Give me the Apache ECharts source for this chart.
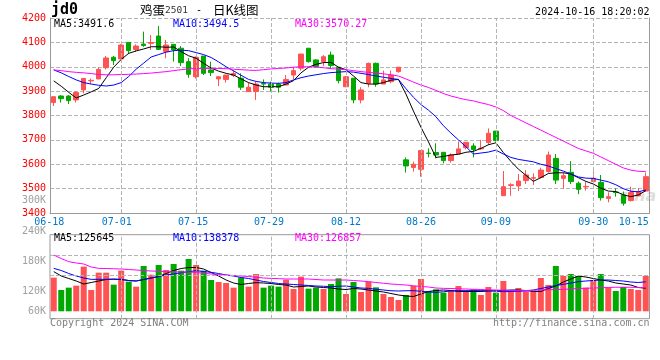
<!DOCTYPE html>
<html><head><meta charset="utf-8">
<script src="https://cdn.jsdelivr.net/npm/echarts/dist/echarts.min.js"></script>
<style>html,body{margin:0;padding:0;background:#fff}#c{width:660px;height:360px}</style>
</head><body><div id="c"></div>
<script>
const dates = ['06-18','06-19','06-20','06-21','06-24','06-25','06-26','06-27','06-28',
 '07-01','07-02','07-03','07-04','07-05','07-08','07-09','07-10','07-11','07-12',
 '07-15','07-16','07-17','07-18','07-19','07-22','07-23','07-24','07-25','07-26',
 '07-29','07-30','07-31','08-01','08-02','08-05','08-06','08-07','08-08','08-09',
 '08-12','08-13','08-14','08-15','08-16','08-19','08-20','08-21','08-22','08-23',
 '08-26','08-27','08-28','08-29','08-30','09-02','09-03','09-04','09-05','09-06',
 '09-09','09-10','09-11','09-12','09-13','09-18','09-19','09-20','09-23','09-24',
 '09-25','09-26','09-27','09-30','10-08','10-09','10-10','10-11','10-14','10-15','10-16'];
const opens = [3853,3880,3880,3864,3905,3942,3950,3996,4039,4032,
 4100,4071,4093,4096,4126,4062,4092,4076,4021,3959,
 4044,3987,3950,3948,3965,3953,3898,3898,3931,3929,
 3929,3925,3966,3994,4076,4028,4021,4048,3998,3918,
 3953,3864,3932,4014,3929,3939,3980,3618,3587,3579,
 3646,3648,3649,3615,3642,3668,3675,3663,3689,3736,
 3471,3513,3511,3533,3543,3546,3570,3624,3542,3567,
 3522,3507,3529,3526,3460,3486,3474,3451,3470,3490];
const closes = [3877,3869,3861,3894,3952,3944,3989,4036,4025,4089,
 4066,4085,4087,4099,4071,4089,4069,4017,3969,4039,
 3973,3976,3959,3966,3972,3916,3916,3929,3929,3916,
 3916,3948,3984,4052,4021,4000,4041,4005,3943,3959,
 3864,3905,4014,3929,3946,3966,3998,3593,3600,3656,
 3644,3638,3615,3638,3663,3690,3661,3666,3727,3697,
 3508,3516,3531,3556,3545,3576,3638,3535,3553,3529,
 3497,3509,3542,3463,3467,3484,3440,3484,3488,3549];
const lows = [3839,3853,3847,3853,3891,3929,3949,3989,4007,4031,
 4052,4062,4082,4069,4069,4035,4021,4003,3955,3952,
 3966,3962,3921,3935,3958,3905,3898,3864,3905,3898,
 3894,3925,3948,3984,4017,3998,4003,3994,3932,3918,
 3850,3850,3916,3918,3929,3932,3976,3566,3570,3549,
 3628,3624,3604,3607,3642,3661,3628,3659,3679,3693,
 3471,3471,3490,3519,3515,3542,3566,3519,3499,3519,
 3477,3492,3526,3451,3444,3467,3430,3447,3470,3488];
const highs = [3878,3884,3884,3900,3953,3952,3998,4044,4044,4093,
 4100,4092,4144,4130,4167,4110,4092,4085,4035,4042,
 4044,4021,3960,3966,3985,3973,3935,3939,3948,3939,
 3935,3966,4000,4052,4076,4031,4048,4062,3998,3962,
 3953,3916,4017,4017,3984,3984,3998,3628,3611,3659,
 3665,3686,3649,3645,3693,3690,3686,3700,3747,3736,
 3572,3522,3560,3576,3563,3586,3652,3642,3566,3613,
 3529,3529,3570,3556,3485,3501,3488,3508,3501,3566];
const ma5 = [3942,3920,3895,3872,3884,3897,3911,3955,3998,4030,
 4055,4065,4073,4082,4082,4080,4081,4062,4045,4035,
 4014,3995,3982,3973,3966,3950,3935,3925,3918,3918,
 3918,3929,3943,3975,3998,4010,4017,4018,3998,3988,
 3962,3935,3929,3929,3935,3945,3948,3888,3818,3752,
 3692,3628,3632,3638,3641,3649,3653,3665,3680,3688,
 3648,3612,3580,3555,3530,3545,3562,3565,3565,3560,
 3545,3530,3519,3502,3490,3488,3475,3467,3474,3491.6];
const ma10 = [3987,3975,3960,3946,3935,3929,3924,3921,3925,3935,
 3960,3990,4015,4040,4050,4060,4066,4068,4066,4058,
 4050,4038,4020,4000,3983,3965,3948,3940,3935,3933,
 3932,3935,3946,3955,3962,3967,3972,3976,3978,3980,
 3978,3973,3968,3962,3957,3952,3948,3910,3875,3845,
 3822,3795,3758,3728,3700,3672,3642,3646,3650,3658,
 3642,3628,3620,3615,3610,3600,3593,3582,3572,3560,
 3548,3543,3542,3535,3528,3516,3500,3489,3487,3494.5];
const ma30 = [3987,3984,3980,3977,3975,3972,3968,3967,3967,3968,
 3969,3970,3972,3974,3977,3980,3984,3988,3991,3993,
 3993,3993,3993,3992,3990,3988,3986,3985,3988,3991,
 3993,3995,3998,4000,4000,3999,3996,3992,3990,3988,
 3984,3980,3977,3974,3971,3967,3962,3950,3937,3925,
 3915,3903,3890,3880,3872,3865,3860,3852,3845,3835,
 3820,3800,3785,3770,3755,3740,3725,3710,3695,3680,
 3665,3655,3645,3630,3615,3600,3585,3576,3571,3570.27];
const volumes = [146700,122000,126700,130700,168700,122000,156700,156700,132700,160700,
 138700,128700,170000,152700,172000,162000,174000,160700,184000,172000,
 160700,142000,138000,136000,126700,146700,128700,154000,126700,130700,
 128700,142700,124000,148700,124700,126700,124000,134000,145300,114000,
 138000,118000,138700,127300,114000,108000,102000,112000,130000,144000,
 120000,123300,116700,120700,130000,119300,123300,112000,128000,116700,
 140000,122000,126000,118700,118700,146000,132000,170000,150000,154000,
 150000,126700,142000,154000,126700,120000,128000,124000,122000,150000];
const vma5 = [158700,150000,145000,140000,134000,137000,140000,143000,144000,143000,
 141000,140000,143000,146000,149000,155000,161000,165000,167000,167000,
 164000,157000,150000,142000,136000,133000,135000,136700,136000,135000,
 133000,132000,128000,129000,130000,128000,127000,126000,124000,123000,
 125000,124000,122000,120000,118000,115000,112000,110000,109000,114000,
 119000,121000,122000,121000,119000,119000,119000,119000,120000,120700,
 121000,122000,122000,121000,119000,119000,125000,130000,138000,144000,
 150000,148000,145000,142000,140000,136000,134000,132000,127000,125645];
const vma10 = [165300,161000,155000,150000,146000,143300,143300,143300,143300,143300,
 141000,140000,143000,146000,149000,152000,154000,156700,158500,160700,
 159000,157300,155000,152000,150000,147000,145000,142000,139000,137000,
 135000,134000,133000,132000,131000,130000,129500,128700,129500,130000,
 128000,126000,125300,123500,122000,120500,120000,120500,120700,119500,
 118000,117300,118500,120000,120700,120700,120700,120700,120700,119500,
 118700,119000,119500,120000,122000,125000,128000,131000,133300,136000,
 138700,140000,141000,142000,142000,141000,140000,138000,137000,138378];
const vma30 = [192000,185000,178700,176000,174000,168000,165300,165000,164500,164000,
 163000,162000,161000,160000,159500,158700,158300,158000,158000,157000,
 155500,154000,153000,152000,151000,150000,149000,147500,146000,145300,
 144700,144000,144000,144000,144000,143000,142000,142000,142000,142000,
 141000,140000,138700,137000,135500,134000,133000,132000,130500,129000,
 128000,126000,125300,125000,124300,124000,123500,123000,122300,122000,
 121500,121000,120700,121000,121500,122000,122500,123000,123300,124000,
 125000,125500,126000,126500,127000,127500,127700,127500,127000,126857];
const priceMin = 3400, priceMax = 4200, priceStep = 100;
const labelIdx = [0, 9, 19, 29, 39, 49, 59, 72, 78];
const gridIdx = [9, 19, 29, 39, 49, 59, 72];
const volBarMin = 79400, volFrameMin = 64600, volMax = 232600;
const volGridValues = [191400, 151400];
const volLabels = ['240K', '180K', '120K', '60K'];
const priceVolLabel = '300K';

const MONO = '"DejaVu Sans Mono", monospace';
const CJK = '"Noto Sans CJK SC", sans-serif';
const UP = '#ff5252', DOWN = '#00a800', BORDER = '#999';
const last = a => a[a.length - 1];

const chart = echarts.init(document.getElementById('c'), null, {renderer: 'canvas'});
const gridLine = () => ({color: '#b4b4b4', type: 'dashed', width: 1});
const vLines = gridIdx.map(i => ({xAxis: i}));
const shiftRich = {
  a: {padding: [0, 9, 0, 0]}, b: {padding: [0, 6, 0, 0]}, c: {padding: [0, 4, 0, 0]},
  e: {padding: [0, 9, 0, 0]}
};
const shiftKey = {0: 'a', 9: 'a', 19: 'b', 29: 'c', 78: 'e'};
function t(x, y, text, fill, align, extra) {
  return {type: 'text', x: x, y: y, silent: true,
    style: Object.assign({text: text, fill: fill, fontFamily: MONO, fontSize: 10, align: align || 'left', verticalAlign: 'middle'}, extra || {})};
}
const volLabelY = [231, 261, 291, 311];
const graphics = [
  t(51, 10.5, 'jd0', '#000', 'left', {fontSize: 15, fontWeight: 'bold'}),
  {type: 'text', x: 140, y: 10.5, silent: true, style: {
    text: '{a|鸡蛋}{b|2501}{c|-}{a|日K线图}', verticalAlign: 'middle', align: 'left',
    rich: {a: {fontFamily: CJK, fontSize: 12.5, fill: '#000'},
           b: {fontFamily: MONO, fontSize: 9.5, fill: '#333'},
           c: {fontFamily: MONO, fontSize: 10, fill: '#000', padding: [0, 11, 0, 8]}}}},
  t(649.5, 12, '2024-10-16 18:20:02', '#000', 'right'),
  t(54, 24, 'MA5:' + last(ma5).toFixed(1), '#000'),
  t(173, 24, 'MA10:' + last(ma10).toFixed(1), '#0000ff'),
  t(295, 24, 'MA30:' + last(ma30).toFixed(2), '#ff00ff'),
  t(54, 238.7, 'MA5:' + last(vma5), '#000'),
  t(173, 238.7, 'MA10:' + last(vma10), '#0000ff'),
  t(295, 238.7, 'MA30:' + last(vma30), '#ff00ff'),
  t(46, 200.3, priceVolLabel, '#a0a0a0', 'right'),
  t(50, 323.7, 'Copyright 2024 SINA.COM', '#808080', 'left'),
  t(649.5, 323.7, 'http://finance.sina.com.cn', '#808080', 'right'),
  {type: 'text', x: 619, y: 197, z: 0, silent: true, style: {text: 'sina', fill: 'rgba(190,190,190,0.5)',
    fontFamily: '"DejaVu Sans", sans-serif', fontSize: 16, fontWeight: 'bold', fontStyle: 'italic', verticalAlign: 'middle'}}
].concat(volLabels.map((s, i) => t(46, volLabelY[i], s, '#a0a0a0', 'right')));

const option = {
  animation: false,
  backgroundColor: '#fff',
  graphic: {elements: graphics},
  grid: [
    {left: 50, top: 18, width: 599.5, height: 195, outerBoundsMode: 'none', containLabel: false},
    {left: 50, top: 234.7, width: 599.5, height: 76.6, outerBoundsMode: 'none', containLabel: false},
    {left: 50, top: 234.7, width: 599.5, height: 84, show: true, borderColor: BORDER, borderWidth: 1,
     backgroundColor: 'transparent', outerBoundsMode: 'none', containLabel: false}
  ],
  xAxis: [
    {type: 'category', gridIndex: 0, data: dates, boundaryGap: true,
     axisLine: {show: true, lineStyle: {color: BORDER}}, axisTick: {show: false}, splitLine: {show: false},
     axisLabel: {interval: (i) => labelIdx.indexOf(i) >= 0, hideOverlap: false, color: '#0078c8',
       fontFamily: MONO, fontSize: 10, margin: 4, rich: shiftRich,
       formatter: (v, i) => shiftKey[i] ? '{' + shiftKey[i] + '|' + v + '}' : v}},
    {type: 'category', gridIndex: 1, data: dates, boundaryGap: true, show: false},
    {type: 'category', gridIndex: 2, data: dates, boundaryGap: true, show: false}
  ],
  yAxis: [
    {type: 'value', gridIndex: 0, min: priceMin, max: priceMax, interval: priceStep,
     axisLine: {show: true, lineStyle: {color: BORDER}}, axisTick: {show: false},
     axisLabel: {color: '#ff0000', fontFamily: MONO, fontSize: 10, margin: 4, formatter: v => String(v)},
     splitLine: {show: true, lineStyle: gridLine()}},
    {type: 'value', gridIndex: 0, position: 'right', min: priceMin, max: priceMax,
     axisLine: {show: true, lineStyle: {color: BORDER}}, axisTick: {show: false},
     axisLabel: {show: false}, splitLine: {show: false}},
    {type: 'value', gridIndex: 1, min: volBarMin, max: volMax, show: false, splitLine: {show: false}},
    {type: 'value', gridIndex: 2, min: volFrameMin, max: volMax, show: false, splitLine: {show: false}}
  ],
  series: [
    {type: 'line', xAxisIndex: 0, yAxisIndex: 0, data: closes, symbol: 'none', silent: true, z: 1,
     lineStyle: {width: 0, color: 'rgba(0,0,0,0)'},
     markLine: {silent: true, symbol: ['none', 'none'], label: {show: false}, animation: false,
       lineStyle: gridLine(), data: vLines}},
    {type: 'candlestick', xAxisIndex: 0, yAxisIndex: 0, barWidth: 5, silent: true,
     data: dates.map((d, i) => [opens[i], closes[i], lows[i], highs[i]]),
     itemStyle: {color: UP, color0: DOWN, borderColor: UP, borderColor0: DOWN, borderWidth: 1}},
    {type: 'line', xAxisIndex: 0, yAxisIndex: 0, data: ma5, symbol: 'none', silent: true, lineStyle: {color: '#000', width: 1}},
    {type: 'line', xAxisIndex: 0, yAxisIndex: 0, data: ma10, symbol: 'none', silent: true, lineStyle: {color: '#0000ff', width: 1}},
    {type: 'line', xAxisIndex: 0, yAxisIndex: 0, data: ma30, symbol: 'none', silent: true, lineStyle: {color: '#ff00ff', width: 1}},
    {type: 'line', xAxisIndex: 2, yAxisIndex: 3, data: volumes, symbol: 'none', silent: true, z: 1,
     lineStyle: {width: 0, color: 'rgba(0,0,0,0)'},
     markLine: {silent: true, symbol: ['none', 'none'], label: {show: false}, animation: false,
       lineStyle: gridLine(), data: vLines.concat(volGridValues.map(v => ({yAxis: v})))}},
    {type: 'bar', xAxisIndex: 1, yAxisIndex: 2, barWidth: 6, silent: true,
     data: volumes.map((v, i) => ({value: v, itemStyle: {color: closes[i] >= opens[i] ? UP : DOWN}}))},
    {type: 'line', xAxisIndex: 1, yAxisIndex: 2, data: vma5, symbol: 'none', silent: true, lineStyle: {color: '#000', width: 1}},
    {type: 'line', xAxisIndex: 1, yAxisIndex: 2, data: vma10, symbol: 'none', silent: true, lineStyle: {color: '#0000ff', width: 1}},
    {type: 'line', xAxisIndex: 1, yAxisIndex: 2, data: vma30, symbol: 'none', silent: true, lineStyle: {color: '#ff00ff', width: 1}}
  ]
};
chart.setOption(option);
</script></body></html>
